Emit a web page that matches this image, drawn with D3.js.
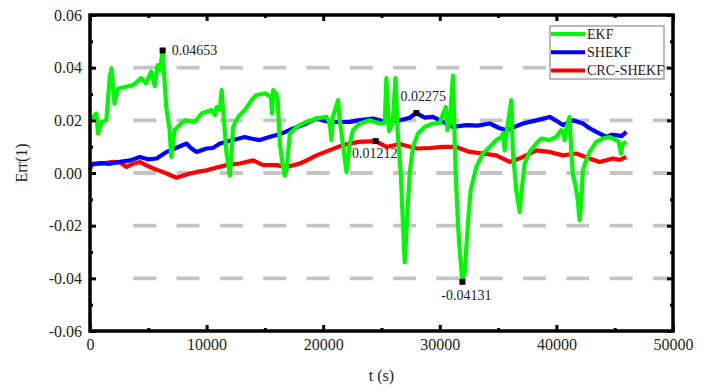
<!DOCTYPE html>
<html>
<head>
<meta charset="utf-8">
<script src="https://cdn.jsdelivr.net/npm/d3@7"></script>
<style>
  body { margin: 0; background: #fff; }
  svg text { font-family: "Liberation Serif", "Times New Roman", serif; fill: #222; }
</style>
</head>
<body>
<div id="viz"></div>
<script>
// series: [t (s), Err(1)]
let ekf = [
  [0, 0.0200], [540, 0.0226], [690, 0.0150], [1000, 0.0194], [1400, 0.0200], [1700, 0.0366],
  [1850, 0.0398], [2100, 0.0264], [2400, 0.0320], [3700, 0.0334], [4400, 0.0360], [4800, 0.0340],
  [5250, 0.0385], [5550, 0.0330], [5800, 0.0410], [6000, 0.0390], [6230, 0.04653], [6540, 0.0250],
  [6830, 0.0163], [6970, 0.0061], [7260, 0.0163], [7820, 0.0188], [8140, 0.0200], [9000, 0.0194],
  [9570, 0.0226], [10430, 0.0239], [10710, 0.0220], [10860, 0.0250], [11140, 0.0240], [11290, 0.0315],
  [11710, 0.0074], [12000, -0.0009], [12280, 0.0175], [12710, 0.0213], [13280, 0.0239], [13860, 0.0277],
  [14280, 0.0296], [15000, 0.0302], [15510, 0.0290], [15620, 0.0226], [15710, 0.0315], [16000, 0.0300],
  [16110, 0.0270], [16280, 0.0112], [16500, 0.0040], [16710, -0.0010], [16860, 0.0010], [17140, 0.0150],
  [17710, 0.0175], [18570, 0.0194], [19430, 0.0207], [20280, 0.0213], [20570, 0.0188], [20710, 0.0125],
  [20820, 0.0210], [21280, 0.0277], [21420, 0.0200], [22000, 0.0004], [22280, 0.0112], [22560, 0.0163],
  [23140, 0.0188], [23990, 0.0200], [24850, 0.0188], [25280, 0.0190], [25420, 0.0360], [25650, 0.0160],
  [25960, 0.0190], [26200, 0.0360], [26390, 0.0150], [26650, 0.0000], [26990, -0.0339], [27160, -0.0200],
  [27420, 0.0000], [27700, 0.0099], [28130, 0.0150], [28710, 0.0175], [29420, 0.0188], [29990, 0.0190],
  [30510, 0.0251], [30650, 0.0163], [30850, 0.0190], [31130, 0.0370], [31360, 0.0000], [31560, -0.0193],
  [31700, -0.0288], [31940, -0.04131], [32130, -0.0380], [32280, -0.0280], [32500, -0.0142], [32650, -0.0066],
  [32850, -0.0028], [33140, 0.0023], [33700, 0.0074], [34280, 0.0099], [34850, 0.0125], [35280, 0.0137],
  [35420, 0.0150], [35560, 0.0086], [35710, 0.0150], [36140, 0.0277], [36270, 0.0080], [36560, -0.0066],
  [36850, -0.0149], [36990, -0.0078], [37280, 0.0036], [37700, 0.0080], [38280, 0.0112], [38710, 0.0131],
  [39420, 0.0125], [39990, 0.0137], [40420, 0.0163], [40560, 0.0156], [40700, 0.0125], [40870, 0.0170],
  [41130, 0.0213], [41280, 0.0074], [41410, -0.0003], [41650, -0.0050], [41840, -0.0104], [41990, -0.0180],
  [42130, -0.0115], [42270, 0.0010], [42560, 0.0048], [42850, 0.0080], [43420, 0.0118], [43990, 0.0131],
  [44560, 0.0137], [45130, 0.0125], [45330, 0.0120], [45560, 0.0074], [45670, 0.0110], [46000, 0.0118]
];

let shekf = [
  [0, 0.0030], [860, 0.0038], [1710, 0.0035], [2570, 0.0042], [3430, 0.0048], [4280, 0.0061],
  [4970, 0.0052], [5710, 0.0055], [6570, 0.0080], [7370, 0.0095], [8280, 0.0112], [8650, 0.0095],
  [9140, 0.0080], [10000, 0.0093], [10540, 0.0095], [11140, 0.0112], [12280, 0.0125], [13280, 0.0137],
  [13880, 0.0130], [14570, 0.0125], [15250, 0.0135], [16000, 0.0144], [16710, 0.0155], [17420, 0.0169],
  [18420, 0.0185], [19420, 0.0207], [19960, 0.0200], [20570, 0.0194], [21710, 0.0194], [22280, 0.0194],
  [23000, 0.0200], [24280, 0.0207], [25420, 0.0194], [26570, 0.0200], [27420, 0.0210], [27990, 0.02275],
  [28710, 0.0210], [29420, 0.0213], [30280, 0.0194], [31130, 0.0175], [32280, 0.0182], [33250, 0.0180],
  [34280, 0.0188], [35130, 0.0170], [35710, 0.0163], [36420, 0.0175], [37130, 0.0188], [38280, 0.0200],
  [39420, 0.0213], [39930, 0.0200], [40560, 0.0182], [41420, 0.0200], [42270, 0.0188], [42850, 0.0170],
  [43420, 0.0156], [44280, 0.0137], [44740, 0.0145], [45130, 0.0144], [45590, 0.0140], [46000, 0.0156]
];

let crc = [
  [0, 0.0010], [130, 0.0036], [860, 0.0035], [2000, 0.0042], [2570, 0.0040], [3140, 0.0023],
  [3680, 0.0035], [4280, 0.0042], [4800, 0.0030], [5430, 0.0017], [6000, 0.0008], [6570, -0.0002],
  [7430, -0.0018], [7970, -0.0010], [8570, -0.0002], [9260, 0.0005], [10000, 0.0010], [10800, 0.0020],
  [11710, 0.0030], [12850, 0.0036], [13990, 0.0048], [14850, 0.0030], [16000, 0.0030], [16860, 0.0023],
  [18000, 0.0036], [18680, 0.0050], [19420, 0.0067], [20570, 0.0087], [21710, 0.0106], [23000, 0.0118],
  [24500, 0.01212], [25420, 0.0099], [26570, 0.0110], [28000, 0.0093], [29140, 0.0095], [30280, 0.0099],
  [31420, 0.0099], [32560, 0.0080], [33700, 0.0074], [34850, 0.0067], [36000, 0.0042], [36510, 0.0050],
  [37130, 0.0061], [38280, 0.0086], [39420, 0.0080], [40560, 0.0067], [41700, 0.0074], [42850, 0.0055],
  [43700, 0.0042], [44850, 0.0055], [45420, 0.0050], [46000, 0.0061]
];

let legend_names = ["EKF", "SHEKF", "CRC-SHEKF"];
let legend_colors = ["#00f800", "#0000ff", "#ff0000"];

let x_ticks = [0, 10000, 20000, 30000, 40000, 50000];
let x_minor = [5000, 15000, 25000, 35000, 45000];
let y_ticks = [-0.06, -0.04, -0.02, 0.00, 0.02, 0.04, 0.06];
let y_minor = [-0.05, -0.03, -0.01, 0.01, 0.03, 0.05];
let grid_vals = [-0.04, -0.02, 0.00, 0.02, 0.04];

// marked points: [t, value, label]
let marks = [
  [6230, 0.04653, "0.04653"],
  [27990, 0.02275, "0.02275"],
  [24500, 0.01212, "0.01212"],
  [31940, -0.04131, "-0.04131"]
];

let W = 713, H = 392;
let m_left = 90, m_right = 673, m_top = 15, m_bottom = 331;

let svg = d3.select("#viz").append("svg")
  .attr("width", W).attr("height", H);

let x = d3.scaleLinear().domain([0, 50000]).range([m_left, m_right]);
let y = d3.scaleLinear().domain([-0.06, 0.06]).range([m_bottom, m_top]);

// dashed grid
svg.append("g").selectAll("line")
  .data(grid_vals).enter().append("line")
  .attr("x1", m_left + 23).attr("x2", m_right - 3)
  .attr("y1", d => y(d)).attr("y2", d => y(d))
  .attr("stroke", "#c4c4c4")
  .attr("stroke-width", 3.8)
  .attr("stroke-dasharray", "23 20.3")
  .attr("stroke-dashoffset", 23);

// lines
let line = d3.line().x(d => x(d[0])).y(d => y(d[1]));
let series = [[crc, legend_colors[2]], [shekf, legend_colors[1]], [ekf, legend_colors[0]]];
series.forEach(function(s){
  svg.append("path")
    .datum(s[0])
    .attr("d", line)
    .attr("fill", "none")
    .attr("stroke", s[1])
    .attr("stroke-width", 4.2)
    .attr("stroke-linejoin", "round");
});

// axes, ticks pointing inward
function style_axis(g){
  g.select(".domain").remove();
  g.selectAll(".tick line").attr("stroke", "#000").attr("stroke-width", 3);
  g.selectAll(".tick text").style("font-size", "16px").attr("fill", "#222");
}
let fmt = d => d.toFixed(2);

svg.append("g").attr("transform", "translate(0," + m_bottom + ")")
  .call(d3.axisBottom(x).tickValues(x_ticks).tickSize(-6).tickPadding(8).tickFormat(d3.format("d")))
  .call(style_axis);
svg.append("g").attr("transform", "translate(0," + m_bottom + ")")
  .call(d3.axisBottom(x).tickValues(x_minor).tickSize(-3).tickFormat(""))
  .call(style_axis);
svg.append("g").attr("transform", "translate(0," + m_top + ")")
  .call(d3.axisTop(x).tickValues(x_ticks).tickSize(-6).tickFormat(""))
  .call(style_axis);
svg.append("g").attr("transform", "translate(0," + m_top + ")")
  .call(d3.axisTop(x).tickValues(x_minor).tickSize(-3).tickFormat(""))
  .call(style_axis);

svg.append("g").attr("transform", "translate(" + m_left + ",0)")
  .call(d3.axisLeft(y).tickValues(y_ticks).tickSize(-6).tickPadding(8).tickFormat(fmt))
  .call(style_axis);
svg.append("g").attr("transform", "translate(" + m_left + ",0)")
  .call(d3.axisLeft(y).tickValues(y_minor).tickSize(-3).tickFormat(""))
  .call(style_axis);
svg.append("g").attr("transform", "translate(" + m_right + ",0)")
  .call(d3.axisRight(y).tickValues(y_ticks).tickSize(-6).tickFormat(""))
  .call(style_axis);
svg.append("g").attr("transform", "translate(" + m_right + ",0)")
  .call(d3.axisRight(y).tickValues(y_minor).tickSize(-3).tickFormat(""))
  .call(style_axis);

// frame
svg.append("rect")
  .attr("x", m_left).attr("y", m_top)
  .attr("width", m_right - m_left).attr("height", m_bottom - m_top)
  .attr("fill", "none").attr("stroke", "#000").attr("stroke-width", 3.5);

// axis titles
svg.append("text")
  .attr("x", (m_left + m_right) / 2).attr("y", 381)
  .attr("text-anchor", "middle").style("font-size", "16px")
  .text("t (s)");
svg.append("text")
  .attr("transform", "translate(27,163) rotate(-90)")
  .attr("text-anchor", "middle").style("font-size", "16px")
  .text("Err(1)");

// marked points
let mark_g = svg.append("g");
mark_g.selectAll("rect").data(marks).enter().append("rect")
  .attr("x", d => x(d[0]) - 3).attr("y", d => y(d[1]) - 3)
  .attr("width", 6).attr("height", 6).attr("fill", "#000");

let label_pos = {
  "0.04653": {dx: 9, dy: 5, anchor: "start"},
  "0.02275": {dx: 7, dy: -12, anchor: "middle"},
  "0.01212": {dx: -1, dy: 17, anchor: "middle"},
  "-0.04131": {dx: 4, dy: 18, anchor: "middle"}
};
mark_g.selectAll("text").data(marks).enter().append("text")
  .attr("x", d => x(d[0]) + label_pos[d[2]].dx)
  .attr("y", d => y(d[1]) + label_pos[d[2]].dy)
  .attr("text-anchor", d => label_pos[d[2]].anchor)
  .style("font-size", "14px")
  .text(d => d[2]);

// legend
let leg = svg.append("g").attr("transform", "translate(550,26)");
leg.append("rect")
  .attr("width", 114).attr("height", 53)
  .attr("fill", "#fff").attr("stroke", "#777").attr("stroke-width", 1);
let rows = leg.selectAll(".row").data(legend_names).enter().append("g")
  .attr("class", "row")
  .attr("transform", (d, i) => "translate(0," + (8 + i * 18.2) + ")");
rows.append("line")
  .attr("x1", 1).attr("x2", 35)
  .attr("stroke", (d, i) => legend_colors[i])
  .attr("stroke-width", 4);
rows.append("text")
  .attr("x", 37).attr("dy", "0.35em")
  .style("font-size", "14px")
  .text(d => d);
</script>
</body>
</html>
